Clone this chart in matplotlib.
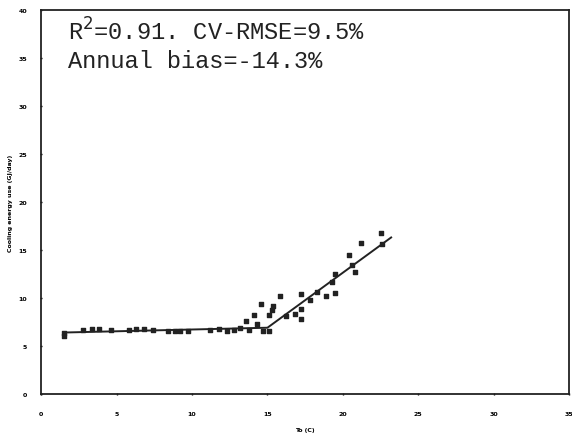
import matplotlib
matplotlib.use("Agg")
import matplotlib.pyplot as plt

# Measured data (outdoor temperature vs daily cooling energy)
temp_c = [1.5, 1.5, 2.8, 3.4, 3.8, 4.6, 5.8, 6.3, 6.8, 7.4, 8.4, 8.9, 9.2, 9.7,
          11.2, 11.8, 12.3, 12.8, 13.2, 13.6, 13.8, 14.1, 14.3, 14.6, 14.7,
          15.1, 15.1, 15.3, 15.4, 15.8, 16.2, 16.8, 17.2, 17.2, 17.2, 17.8,
          18.3, 18.9, 19.3, 19.5, 19.5, 20.4, 20.6, 20.8, 21.2, 22.5, 22.6]
energy_gj = [6.3, 6.0, 6.7, 6.8, 6.8, 6.7, 6.7, 6.8, 6.8, 6.7, 6.6, 6.6, 6.6, 6.6,
             6.7, 6.8, 6.6, 6.7, 6.9, 7.6, 6.7, 8.2, 7.3, 9.4, 6.6,
             6.6, 8.2, 8.7, 9.2, 10.2, 8.1, 8.3, 10.4, 8.9, 7.8, 9.8,
             10.6, 10.2, 11.7, 10.5, 12.5, 14.5, 13.4, 12.7, 15.7, 16.8, 15.6]

# Three-parameter change-point model
fit_temp = [1.5, 15.0, 23.2]
fit_energy = [6.4, 6.9, 16.3]

x_ticks = [0, 5, 10, 15, 20, 25, 30, 35]
y_ticks = [0, 5, 10, 15, 20, 25, 30, 35, 40]

stats_line1 = r"R$^{2}$=0.91. CV-RMSE=9.5%"
stats_line2 = "Annual bias=-14.3%"

fig = plt.figure(figsize=(5.72, 4.35), dpi=100)
ax = fig.add_axes([0.072, 0.092, 0.923, 0.883])

ax.plot(fit_temp, fit_energy, color="#222222", linewidth=1.4, zorder=2)
ax.scatter(temp_c, energy_gj, marker="s", s=8, color="#222222", zorder=3)

ax.set_xlim(0, 35)
ax.set_ylim(0, 40)
ax.set_xticks(x_ticks)
ax.set_yticks(y_ticks)
ax.tick_params(labelsize=4.5, length=2, width=1, direction="inout")
ax.tick_params(axis="x", pad=11)
ax.tick_params(axis="y", pad=9)
for lab in ax.get_xticklabels() + ax.get_yticklabels():
    lab.set_fontweight("bold")
for sp in ax.spines.values():
    sp.set_linewidth(1.3)
    sp.set_color("#222222")

ax.set_xlabel("To (C)", fontsize=4.5, fontweight="bold", labelpad=8)
ax.set_ylabel("Cooling energy use (GJ/day)", fontsize=4.5, fontweight="bold", labelpad=4)

ax.text(0.051, 0.945, stats_line1, transform=ax.transAxes, fontsize=17,
        family="Liberation Mono", va="center", color="#222222")
ax.text(0.051, 0.867, stats_line2, transform=ax.transAxes, fontsize=17,
        family="Liberation Mono", va="center", color="#222222")

fig.savefig("out.png", dpi=100)
